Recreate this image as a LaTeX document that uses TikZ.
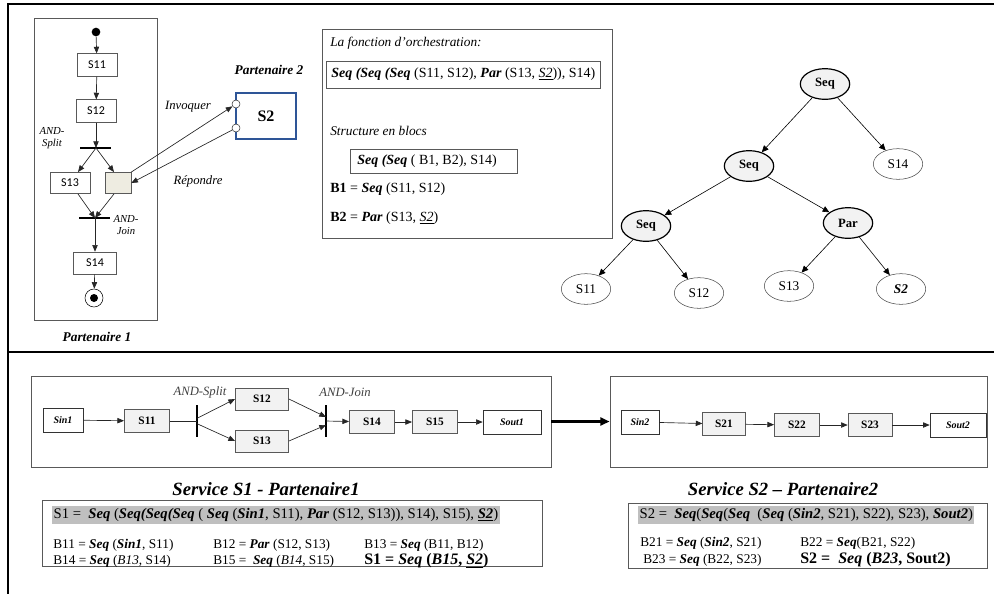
\documentclass[tikz,border=0pt]{standalone}
\usepackage{fontspec}
\setmainfont{Liberation Serif}
\newfontfamily\calfont{Carlito}
\usetikzlibrary{arrows.meta,shapes.geometric}
\newcommand\kw[1]{\textbf{\textit{#1}}}
\definecolor{boxgray}{HTML}{F2F2F2}
\definecolor{edgegray}{HTML}{595959}
\definecolor{hlgray}{HTML}{BFBFBF}
\definecolor{sblue}{HTML}{2E5597}
\definecolor{beige}{HTML}{EEECE1}
\begin{document}
\begin{tikzpicture}[x=0.75pt,y=-0.75pt,
  arr/.style={-{Triangle[length=5pt,width=4pt]}, draw=black!85, line width=0.5pt},
  tarr/.style={-{Triangle[length=5pt,width=4.5pt]}, line width=0.45pt},
  p1box/.style={draw=edgegray, fill=white, font=\calfont\fontsize{9}{10}\selectfont, minimum width=30pt, minimum height=17pt, inner sep=0},
  bar/.style={line width=2pt},
  lbl/.style={font=\itshape\fontsize{8}{9}\selectfont, align=center, inner sep=0},
  pbox/.style={draw=edgegray, fill=boxgray, font=\bfseries\fontsize{8.5}{9}\selectfont, minimum width=34pt, minimum height=17pt, inner sep=0},
  iobox/.style={draw=black!80, fill=white, font=\bfseries\itshape\fontsize{7.5}{9}\selectfont, minimum width=30pt, minimum height=18pt, inner sep=0},
  opnode/.style={ellipse, draw, line width=0.9pt, fill=boxgray, minimum width=37pt, minimum height=23pt, inner sep=0, font=\bfseries\fontsize{9.5}{10}\selectfont},
  leaf/.style={ellipse, draw=black!70, fill=white, minimum width=37pt, minimum height=23pt, inner sep=0, font=\fontsize{10}{11}\selectfont},
  txt/.style={anchor=west, inner sep=0, font=\fontsize{10}{12}\selectfont},
  frm/.style={draw=edgegray, line width=0.6pt},
  title/.style={font=\bfseries\itshape\fontsize{14}{16}\selectfont},
  plabel/.style={font=\bfseries\itshape\fontsize{10}{11}\selectfont}
]
\useasboundingbox (0,0) rectangle (994,594);
% outer frame
\draw[line width=1.6pt] (994,4) -- (8,4) -- (8,594);
\draw[line width=1.6pt] (8,352) -- (994,352);

% ---------- Partenaire 1 ----------
\node[frm, minimum width=92.25pt, minimum height=226.5pt, inner sep=0] (p1) at (95.5,169) {};
\node[circle, fill=black, minimum size=6.5pt, inner sep=0] (start) at (96,32) {};
\node[p1box] (a11) at (97,65) {S11};
\node[p1box] (a12) at (96,111) {S12};
\coordinate (split) at (96,148);
\draw[bar] (80,148) -- (111,148);
\node[p1box, minimum height=16pt] (a13) at (70,183) {S13};
\node[p1box, fill=beige, minimum width=19.5pt, minimum height=16pt] (ag) at (118,183) {};
\coordinate (join) at (95,218);
\draw[bar] (79,218) -- (110,218);
\node[p1box, minimum width=32pt, minimum height=16.5pt] (a14) at (95,263) {S14};
\node[circle, draw, minimum size=13.5pt, inner sep=0] (end) at (94,298) {};
\node[circle, fill=black, minimum size=6pt, inner sep=0] (endin) at (94,298) {};
\draw[arr] (start) -- (a11);
\draw[arr] (a11) -- (a12);
\draw[arr] (a12) -- (split);
\draw[arr] (split) -- ([xshift=6pt]a13.north);
\draw[arr] (split) -- ([xshift=-3pt]ag.north);
\draw[arr] ([xshift=6pt]a13.south) -- (join);
\draw[arr] ([xshift=-3pt]ag.south) -- (join);
\draw[arr] (join) -- (a14);
\draw[arr] (a14) -- (end);
\node[lbl] (lsplit) at (52,138) {AND-\\Split};
\node[lbl] (ljoin) at (126,225) {AND-\\Join};
\node[plabel] (lp1) at (97,337) {Partenaire 1};

% ---------- Partenaire 2 ----------
\node[plabel] (lp2) at (269,70) {Partenaire 2};
\node[draw=sblue, line width=1.3pt, minimum width=45pt, minimum height=35pt, font=\bfseries\fontsize{12}{14}\selectfont] (s2) at (266,116) {S2};
\node[circle, draw=black!80, fill=white, minimum size=6pt, inner sep=0] (ci) at (236,104) {};
\node[circle, draw=black!80, fill=white, minimum size=6pt, inner sep=0] (cr) at (236,128) {};
\draw[arr] (ag.north east) -- (ci);
\draw[arr] (cr) -- (ag.east);
\node[font=\itshape\fontsize{9.5}{10}\selectfont] (linv) at (188,107) {Invoquer};
\node[font=\itshape\fontsize{9.5}{10}\selectfont] (lrep) at (198,181) {Répondre};

% ---------- text box ----------
\node[frm, minimum width=217.5pt, minimum height=156.75pt, inner sep=0] (tb) at (467,133.5) {};
\node[txt, font=\itshape\fontsize{10}{11}\selectfont] (l1) at (330,43) {La fonction d'orchestration:};
\node[frm, minimum width=205.5pt, minimum height=20.25pt, inner sep=0] (fb1) at (463,74.5) {};
\node[txt, font=\fontsize{10.5}{12}\selectfont] (f1) at (331,74) {\kw{Seq (Seq (Seq} (S11, S12), \kw{Par} (S13, \underline{\textit{S2}})), S14)};
\node[txt, font=\itshape\fontsize{10}{11}\selectfont] (l2) at (330,131) {Structure en blocs};
\node[frm, minimum width=125.25pt, minimum height=18pt, inner sep=0] (fb2) at (433.5,161) {};
\node[txt, font=\fontsize{10.5}{12}\selectfont] (f2) at (357,161) {\kw{Seq (Seq} ( B1, B2), S14)};
\node[txt, font=\fontsize{10.5}{12}\selectfont] (f3) at (330,189) {\textbf{B1} = \kw{Seq} (S11, S12)};
\node[txt, font=\fontsize{10.5}{12}\selectfont] (f4) at (330,218) {\textbf{B2} = \kw{Par} (S13, \underline{\textit{S2}})};

% ---------- tree ----------
\node[opnode] (t0) at (825,84) {Seq};
\node[opnode] (t1) at (749,166) {Seq};
\node[leaf] (t14) at (898,164) {S14};
\node[opnode] (t2) at (646,226) {Seq};
\node[opnode] (tp) at (848,223) {Par};
\node[leaf] (t11) at (586,289) {S11};
\node[leaf] (t12) at (699,293) {S12};
\node[leaf] (t13) at (789,286) {S13};
\node[leaf, font=\bfseries\itshape\fontsize{10}{11}\selectfont] (ts2) at (901,289) {S2};
\draw[tarr] (t0) -- (t1);
\draw[tarr] (t0) -- (t14);
\draw[tarr] (t1) -- (t2);
\draw[tarr] (t1) -- (tp);
\draw[tarr] (t2) -- (t11);
\draw[tarr] (t2) -- (t12);
\draw[tarr] (tp) -- (t13);
\draw[tarr] (tp) -- (ts2);

% ---------- bottom: service S1 ----------
\node[frm, minimum width=390pt, minimum height=68.25pt, inner sep=0] (w1) at (291,421.5) {};
\node[iobox] (sin1) at (63,420) {Sin1};
\node[pbox] (b11) at (147,421) {S11};
\coordinate (sp) at (197,421);
\draw[bar] (197,405) -- (197,437);
\node[pbox, minimum width=40pt, minimum height=16.5pt] (b12) at (262,399) {S12};
\node[pbox, minimum width=40pt, minimum height=16.5pt] (b13) at (262,441) {S13};
\coordinate (jn) at (326,421);
\draw[bar] (326,405) -- (326,437);
\node[pbox] (b14) at (372,422) {S14};
\node[pbox] (b15) at (435,422) {S15};
\node[iobox, minimum width=43.5pt] (sout1) at (512,422) {Sout1};
\draw[arr] (sin1) -- (b11);
\draw[line width=0.5pt, draw=black!85] (b11) -- (sp);
\draw[arr] ([yshift=2pt]sp) -- (b12.west);
\draw[arr] ([yshift=-2pt]sp) -- (b13.west);
\draw[arr] (b12.east) -- ([yshift=3pt]jn);
\draw[arr] (b13.east) -- ([yshift=-3pt]jn);
\draw[arr] (jn) -- (b14);
\draw[arr] (b14) -- (b15);
\draw[arr] (b15) -- (sout1);
\node[font=\itshape\fontsize{9.5}{10}\selectfont, text=black!75] (lsp2) at (200,392) {AND-Split};
\node[font=\itshape\fontsize{9.5}{10}\selectfont, text=black!75] (ljn2) at (345,392) {AND-Join};

% ---------- bottom: service S2 ----------
\node[frm, minimum width=282.75pt, minimum height=68.25pt, inner sep=0] (w2) at (798.5,421.5) {};
\draw[-{Triangle[length=7pt,width=6pt]}, line width=1.8pt] (w1.east) -- (w2.west);
\node[iobox, minimum width=28.5pt] (sin2) at (640,422) {Sin2};
\node[pbox, minimum width=32pt] (b21) at (724,424) {S21};
\node[pbox] (b22) at (797,425) {S22};
\node[pbox, minimum width=33pt] (b23) at (870,425) {S23};
\node[iobox, minimum width=42pt] (sout2) at (958,425) {Sout2};
\draw[arr] (sin2) -- (b21);
\draw[arr] (b21) -- (b22);
\draw[arr] (b22) -- (b23);
\draw[arr] (b23) -- (sout2);

% ---------- titles ----------
\node[title] (ti1) at (266,489) {Service S1 - Partenaire1};
\node[title] (ti2) at (783,489) {Service S2 – Partenaire2};

% ---------- formula box 1 ----------
\node[frm, minimum width=375pt, minimum height=50pt, inner sep=0] (fm1) at (292,533.5) {};
\node[txt, fill=hlgray, inner xsep=1pt, inner ysep=1.5pt, font=\fontsize{11}{12}\selectfont] (r10) at (52,515) {S1 = \ \kw{Seq} (\kw{Seq(Seq(Seq} ( \kw{Seq} (\kw{Sin1}, S11), \kw{Par} (S12, S13)), S14), S15), \underline{\kw{S2}})};
\node[txt] (r11) at (53,545) {B11 = \kw{Seq} (\kw{Sin1}, S11)};
\node[txt] (r12) at (213,545) {B12 = \kw{Par} (S12, S13)};
\node[txt] (r13) at (364,545) {B13 = \kw{Seq} (B11, B12)};
\node[txt] (r14) at (53,561) {B14 = \kw{Seq} (\textit{B13}, S14)};
\node[txt] (r15) at (213,561) {B15 = \ \kw{Seq} (\textit{B14}, S15)};
\node[txt, font=\bfseries\fontsize{12}{13}\selectfont] (r16) at (364,561) {S1 = \textit{Seq} (\textit{B15}, \underline{\textit{S2}})};

% ---------- formula box 2 ----------
\node[frm, minimum width=269.25pt, minimum height=48.75pt, inner sep=0] (fm2) at (807.5,535.5) {};
\node[txt, fill=hlgray, inner xsep=1pt, inner ysep=1.5pt, font=\fontsize{11}{12}\selectfont] (r20) at (638,515) {S2 = \ \kw{Seq}(\kw{Seq}(\kw{Seq} \ (\kw{Seq} (\kw{Sin2}, S21), S22), S23), \kw{Sout2})};
\node[txt] (r21) at (640,543) {B21 = \kw{Seq} (\kw{Sin2}, S21)};
\node[txt] (r22) at (800,543) {B22 = \kw{Seq}(B21, S22)};
\node[txt] (r23) at (643,560) {B23 = \kw{Seq} (B22, S23)};
\node[txt, font=\bfseries\fontsize{12}{13}\selectfont] (r24) at (800,560) {S2 = \ \textit{Seq} (\textit{B23}, Sout2)};
\end{tikzpicture}
\end{document}
